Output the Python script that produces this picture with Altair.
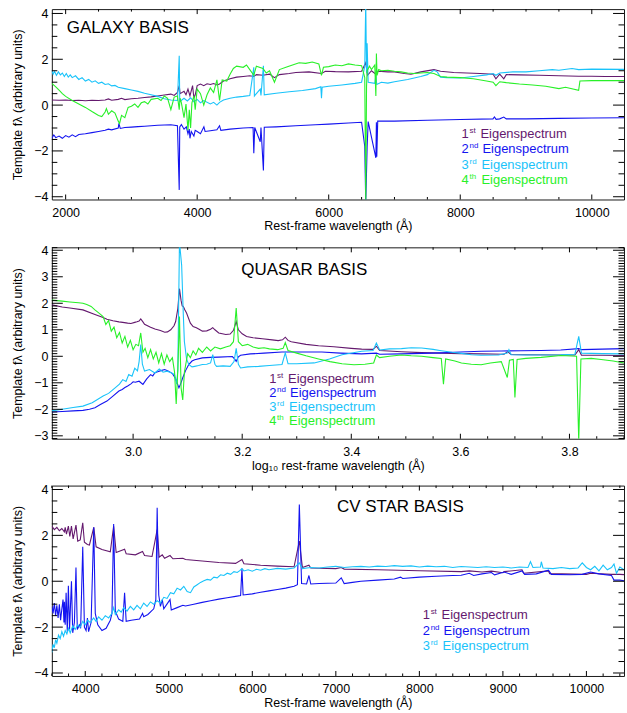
import altair as alt
import pandas as pd

PURPLE = "#64196e"
BLUE = "#1414f0"
CYAN = "#19c3fa"
GREEN = "#28f028"

# ---------------- GALAXY BASIS ----------------
gal_w1 = [1790, 1900, 2000, 2100, 2200, 2300, 2400, 2500, 2600, 2650, 2700, 2800, 2850, 2900, 3000, 3100, 3200, 3300, 3400, 3500, 3600, 3650, 3700, 3727, 3740, 3800, 3830, 3860, 3890, 3930, 3950, 3970, 4000, 4050, 4100, 4150, 4200, 4250, 4300, 4340, 4400, 4500, 4600, 4700, 4800, 4861, 4900, 5000, 5100, 5175, 5250, 5400, 5500, 5700, 5890, 5950, 6100, 6300, 6500, 6563, 6590, 6650, 6717, 6750, 6900, 7000, 7150, 7250, 7400, 7600, 7700, 7900, 8100, 8300, 8500, 8542, 8600, 8662, 8700, 8900, 9200, 9500, 9800, 10000, 10200, 10490]
gal_f1 = [0.22, 0.21, 0.22, 0.20, 0.21, 0.19, 0.21, 0.20, 0.22, 0.27, 0.21, 0.25, 0.30, 0.24, 0.28, 0.30, 0.33, 0.36, 0.40, 0.44, 0.48, 0.42, 0.55, 0.85, 0.50, 0.60, 0.45, 0.70, 0.40, 0.85, 0.30, 0.45, 0.85, 0.92, 0.85, 0.93, 0.90, 0.94, 0.88, 0.92, 1.05, 1.15, 1.22, 1.25, 1.28, 1.25, 1.33, 1.30, 1.35, 1.20, 1.33, 1.38, 1.42, 1.45, 1.38, 1.48, 1.46, 1.45, 1.48, 1.85, 1.30, 1.50, 1.35, 1.48, 1.45, 1.45, 1.38, 1.35, 1.45, 1.55, 1.48, 1.42, 1.40, 1.38, 1.35, 1.15, 1.35, 1.15, 1.33, 1.32, 1.30, 1.28, 1.26, 1.26, 1.25, 1.25]

gal_w2 = [1790, 1820, 1850, 1900, 1950, 2000, 2050, 2100, 2150, 2200, 2300, 2400, 2500, 2600, 2650, 2700, 2800, 2810, 2830, 2900, 3000, 3100, 3200, 3300, 3400, 3500, 3600, 3700, 3727, 3735, 3760, 3800, 3835, 3860, 3880, 3890, 3910, 3950, 3970, 4000, 4050, 4102, 4120, 4200, 4300, 4340, 4360, 4500, 4700, 4850, 4861, 4875, 4959, 4970, 5007, 5020, 5200, 5500, 5800, 6000, 6300, 6500, 6548, 6563, 6584, 6600, 6717, 6725, 6731, 6745, 7000, 7500, 8000, 8498, 8520, 8545, 8600, 8662, 8700, 9000, 9500, 10000, 10490]
gal_f2 = [-1.45, -1.30, -1.42, -1.35, -1.45, -1.33, -1.40, -1.30, -1.38, -1.28, -1.25, -1.20, -1.15, -1.10, -1.05, -1.08, -1.00, -0.80, -1.02, -0.98, -0.96, -0.94, -0.92, -0.90, -0.88, -0.87, -0.86, -0.90, -3.70, -0.95, -0.85, -1.05, -0.95, -1.25, -1.05, -1.45, -1.15, -1.35, -1.10, -1.15, -1.25, -0.95, -1.15, -1.12, -1.08, -0.90, -1.10, -1.05, -1.00, -0.98, -2.10, -0.98, -1.60, -0.98, -2.85, -0.97, -0.95, -0.90, -0.86, -0.83, -0.78, -0.75, -1.80, -4.30, -1.85, -0.72, -2.30, -0.75, -2.25, -0.70, -0.70, -0.66, -0.63, -0.60, -0.52, -0.62, -0.60, -0.52, -0.60, -0.60, -0.58, -0.56, -0.55]

gal_w3 = [1790, 1810, 1830, 1860, 1890, 1920, 1950, 1980, 2010, 2040, 2070, 2100, 2150, 2200, 2250, 2300, 2350, 2400, 2450, 2500, 2550, 2600, 2650, 2700, 2750, 2800, 2900, 3000, 3100, 3200, 3300, 3400, 3500, 3600, 3700, 3727, 3735, 3800, 3850, 3900, 3950, 4000, 4050, 4100, 4200, 4250, 4300, 4340, 4400, 4500, 4600, 4700, 4800, 4861, 4870, 4959, 4970, 5007, 5020, 5200, 5400, 5600, 5800, 5880, 5890, 5900, 6000, 6200, 6400, 6500, 6548, 6563, 6575, 6584, 6600, 6700, 6717, 6731, 6800, 6900, 7000, 7200, 7400, 7500, 7600, 7650, 7700, 7800, 8000, 8200, 8400, 8500, 8542, 8600, 8800, 9000, 9200, 9400, 9500, 9700, 9800, 10000, 10490]
gal_f3 = [1.50, 1.35, 1.48, 1.30, 1.45, 1.32, 1.40, 1.25, 1.38, 1.22, 1.32, 1.20, 1.28, 1.12, 1.20, 1.05, 1.12, 1.00, 1.06, 0.95, 1.00, 0.90, 0.93, 0.84, 0.86, 0.78, 0.72, 0.66, 0.60, 0.52, 0.45, 0.38, 0.28, 0.22, 0.20, 2.15, 0.15, 0.30, 0.18, 0.32, 0.15, 0.25, 0.10, 0.20, 0.05, 0.12, 0.00, 0.12, 0.22, 0.30, 0.35, 0.38, 0.42, 1.65, 0.40, 0.70, 0.42, 1.72, 0.45, 0.52, 0.58, 0.64, 0.72, 0.80, 0.30, 0.78, 0.82, 0.88, 0.95, 1.00, 1.70, 4.50, 1.40, 2.70, 1.00, 0.95, 1.30, 0.90, 1.00, 0.96, 1.02, 1.12, 1.25, 1.33, 1.52, 1.45, 1.22, 1.20, 1.18, 1.25, 1.32, 1.38, 1.30, 1.40, 1.45, 1.45, 1.50, 1.55, 1.52, 1.60, 1.55, 1.57, 1.56]

gal_w4 = [1790, 1850, 1900, 1950, 2000, 2100, 2200, 2300, 2400, 2500, 2550, 2600, 2620, 2650, 2700, 2750, 2800, 2820, 2850, 2900, 2950, 3000, 3050, 3100, 3150, 3200, 3250, 3300, 3400, 3450, 3500, 3550, 3600, 3650, 3700, 3727, 3740, 3760, 3800, 3830, 3860, 3880, 3900, 3920, 3950, 3970, 4000, 4050, 4100, 4150, 4200, 4250, 4300, 4340, 4380, 4450, 4500, 4550, 4600, 4700, 4750, 4800, 4861, 4900, 5000, 5050, 5100, 5175, 5250, 5350, 5450, 5550, 5650, 5750, 5850, 5890, 5920, 6000, 6100, 6200, 6300, 6400, 6500, 6548, 6563, 6575, 6584, 6620, 6650, 6700, 6717, 6725, 6735, 6760, 6800, 6900, 7000, 7100, 7200, 7300, 7400, 7500, 7600, 7700, 7800, 8000, 8200, 8400, 8500, 8542, 8600, 8700, 8900, 9100, 9300, 9500, 9600, 9800, 9820, 10000, 10490]
gal_f4 = [0.95, 0.80, 0.65, 0.50, 0.38, 0.20, 0.05, -0.10, -0.28, -0.45, -0.50, -0.30, -0.15, -0.40, -0.25, -0.35, -0.70, -0.80, -0.45, -0.55, -0.10, -0.05, 0.05, -0.10, 0.10, 0.15, 0.05, 0.25, 0.30, 0.20, 0.40, 0.30, -0.20, 0.35, 0.40, -0.20, 0.30, 0.10, -0.55, 0.05, -1.10, -0.20, -1.00, 0.10, 0.40, -0.20, 0.70, 0.50, 0.00, 0.45, 0.75, 0.55, 1.10, 0.20, 1.10, 1.05, 1.35, 1.60, 1.70, 1.65, 1.75, 1.55, 1.30, 1.70, 1.60, 1.40, 1.50, 1.00, 1.55, 1.65, 1.75, 1.85, 1.82, 1.88, 1.80, 1.30, 1.65, 1.68, 1.75, 1.72, 1.80, 1.75, 1.72, 1.20, -4.20, 0.80, 1.50, 1.70, 1.55, 1.75, 0.40, 2.25, 1.30, 1.55, 1.50, 1.52, 1.48, 1.45, 1.40, 1.38, 1.40, 1.42, 1.38, 1.25, 1.22, 1.20, 1.15, 1.05, 1.00, 0.85, 1.02, 0.98, 0.92, 0.88, 0.82, 0.72, 0.78, 0.65, 1.05, 1.07, 1.07]

# ---------------- QUASAR BASIS (log10 wavelength) ----------------
qso_w1 = [2.851, 2.870, 2.884, 2.908, 2.930, 2.945, 2.952, 2.963, 2.974, 2.981, 2.990, 2.996, 3.003, 3.007, 3.011, 3.014, 3.018, 3.021, 3.032, 3.040, 3.050, 3.058, 3.063, 3.069, 3.075, 3.078, 3.082, 3.085, 3.088, 3.090, 3.092, 3.095, 3.098, 3.105, 3.110, 3.116, 3.121, 3.127, 3.135, 3.142, 3.146, 3.150, 3.157, 3.170, 3.178, 3.184, 3.189, 3.193, 3.200, 3.208, 3.220, 3.237, 3.255, 3.266, 3.274, 3.279, 3.284, 3.290, 3.317, 3.340, 3.368, 3.400, 3.419, 3.440, 3.446, 3.452, 3.492, 3.529, 3.565, 3.600, 3.638, 3.680, 3.687, 3.693, 3.720, 3.784, 3.810, 3.817, 3.822, 3.860, 3.900]
qso_f1 = [1.94, 1.86, 1.82, 1.75, 1.58, 1.46, 1.40, 1.34, 1.30, 1.28, 1.25, 1.24, 1.28, 1.30, 1.33, 1.41, 1.30, 1.21, 1.10, 1.03, 0.97, 0.91, 0.92, 1.00, 1.15, 1.31, 1.80, 2.55, 2.10, 1.90, 1.88, 1.75, 1.63, 1.25, 1.12, 1.08, 1.02, 0.95, 0.96, 1.02, 1.08, 1.00, 0.88, 0.82, 0.84, 0.98, 1.31, 1.00, 0.85, 0.75, 0.70, 0.66, 0.62, 0.59, 0.62, 0.72, 0.60, 0.55, 0.45, 0.40, 0.36, 0.30, 0.27, 0.26, 0.38, 0.22, 0.17, 0.14, 0.12, 0.10, 0.09, 0.08, 0.17, 0.07, 0.06, 0.05, 0.05, 0.25, 0.04, 0.04, 0.03]

qso_w2 = [2.851, 2.870, 2.890, 2.908, 2.920, 2.930, 2.940, 2.952, 2.963, 2.974, 2.980, 2.985, 2.990, 2.996, 3.000, 3.004, 3.011, 3.018, 3.025, 3.032, 3.036, 3.040, 3.045, 3.051, 3.058, 3.065, 3.072, 3.078, 3.084, 3.087, 3.091, 3.096, 3.102, 3.108, 3.113, 3.127, 3.142, 3.157, 3.182, 3.186, 3.189, 3.193, 3.197, 3.215, 3.240, 3.273, 3.300, 3.346, 3.380, 3.419, 3.446, 3.452, 3.492, 3.529, 3.565, 3.600, 3.638, 3.675, 3.711, 3.748, 3.784, 3.817, 3.822, 3.860, 3.900]
qso_f2 = [-2.10, -2.08, -2.06, -2.04, -2.00, -1.94, -1.82, -1.69, -1.50, -1.31, -1.25, -1.18, -1.12, -1.04, -0.96, -0.98, -0.94, -1.06, -0.85, -0.69, -0.74, -0.62, -0.58, -0.54, -0.50, -0.56, -0.65, -0.85, -1.19, -1.05, -0.81, -0.55, -0.31, -0.18, -0.13, -0.06, -0.04, -0.03, -0.01, -0.10, -0.19, -0.02, 0.04, 0.09, 0.12, 0.16, 0.16, 0.16, 0.12, 0.09, 0.12, 0.08, 0.09, 0.11, 0.13, 0.16, 0.19, 0.20, 0.21, 0.22, 0.24, 0.29, 0.25, 0.27, 0.29]

qso_w3 = [2.851, 2.870, 2.890, 2.908, 2.925, 2.945, 2.955, 2.967, 2.975, 2.981, 2.987, 2.992, 2.998, 3.003, 3.008, 3.011, 3.014, 3.017, 3.021, 3.030, 3.040, 3.048, 3.055, 3.062, 3.070, 3.076, 3.080, 3.082, 3.085, 3.089, 3.092, 3.094, 3.098, 3.102, 3.108, 3.113, 3.120, 3.127, 3.135, 3.142, 3.146, 3.150, 3.153, 3.165, 3.178, 3.185, 3.189, 3.193, 3.197, 3.210, 3.230, 3.250, 3.273, 3.279, 3.284, 3.300, 3.332, 3.360, 3.383, 3.419, 3.440, 3.446, 3.452, 3.470, 3.492, 3.510, 3.529, 3.550, 3.565, 3.585, 3.602, 3.620, 3.638, 3.670, 3.686, 3.689, 3.693, 3.720, 3.784, 3.810, 3.817, 3.822, 3.860, 3.900]
qso_f3 = [-2.06, -2.00, -1.93, -1.88, -1.75, -1.50, -1.40, -1.19, -1.05, -0.88, -0.95, -0.69, -0.75, -0.45, -0.55, -0.20, 0.44, -0.30, -0.56, -0.50, -0.63, -0.48, -0.60, -0.56, -0.62, -0.69, -1.05, -0.50, 4.30, 3.44, 1.60, 0.56, -0.10, -0.31, -0.40, -0.38, -0.35, -0.31, -0.30, -0.25, 0.06, -0.30, -0.38, -0.36, -0.38, -0.20, 0.30, -0.30, -0.44, -0.40, -0.38, -0.35, -0.31, 0.13, -0.28, -0.28, -0.25, -0.10, 0.06, 0.19, 0.22, 0.50, 0.24, 0.28, 0.29, 0.32, 0.31, 0.26, 0.21, 0.15, 0.11, 0.06, 0.04, 0.05, 0.12, 0.25, 0.06, 0.05, 0.06, 0.08, 0.75, 0.12, 0.10, 0.09]

qso_w4 = [2.851, 2.870, 2.884, 2.900, 2.908, 2.915, 2.923, 2.930, 2.938, 2.945, 2.950, 2.955, 2.960, 2.965, 2.970, 2.975, 2.980, 2.985, 2.990, 2.995, 3.000, 3.005, 3.010, 3.014, 3.018, 3.022, 3.027, 3.032, 3.037, 3.042, 3.047, 3.052, 3.057, 3.062, 3.067, 3.072, 3.076, 3.079, 3.082, 3.085, 3.088, 3.091, 3.094, 3.100, 3.105, 3.110, 3.115, 3.120, 3.127, 3.135, 3.142, 3.150, 3.160, 3.170, 3.178, 3.184, 3.189, 3.193, 3.200, 3.210, 3.220, 3.230, 3.240, 3.250, 3.265, 3.275, 3.279, 3.284, 3.300, 3.317, 3.340, 3.361, 3.383, 3.405, 3.425, 3.441, 3.446, 3.452, 3.470, 3.492, 3.510, 3.529, 3.550, 3.565, 3.569, 3.573, 3.590, 3.602, 3.620, 3.638, 3.655, 3.675, 3.686, 3.690, 3.697, 3.700, 3.704, 3.720, 3.748, 3.784, 3.813, 3.817, 3.821, 3.840, 3.858, 3.880, 3.900]
qso_f4 = [2.12, 2.08, 2.05, 2.02, 2.00, 1.95, 1.88, 1.75, 1.62, 1.50, 1.20, 1.35, 0.95, 1.10, 0.70, 0.90, 0.50, 0.75, 0.35, 0.60, 0.25, 0.45, 0.40, 0.88, 0.15, 0.30, -0.05, 0.25, -0.10, 0.15, -0.25, 0.10, -0.30, 0.05, -0.20, -0.05, -0.60, -1.80, -0.50, 1.50, -1.20, -1.65, -0.60, 0.10, -0.05, 0.20, 0.05, 0.30, 0.15, 0.35, 0.20, 0.35, 0.28, 0.35, 0.40, 0.55, 1.82, 0.55, 0.40, 0.45, 0.35, 0.30, 0.32, 0.28, 0.25, 0.30, 0.52, 0.22, 0.12, 0.02, -0.10, -0.20, -0.28, -0.32, -0.30, -0.25, 0.05, -0.05, 0.00, 0.05, 0.02, 0.00, -0.05, -0.08, -1.05, -0.10, -0.18, -0.25, -0.30, -0.32, -0.25, -0.20, -0.80, -0.15, -0.12, -1.55, -0.12, -0.08, -0.04, 0.03, 0.00, -3.20, -0.10, -0.08, -0.12, -0.18, -0.25]

# ---------------- CV STAR BASIS ----------------
cv_w1 = [3600, 3630, 3660, 3690, 3720, 3750, 3760, 3775, 3798, 3815, 3835, 3855, 3889, 3910, 3940, 3970, 3990, 4026, 4050, 4102, 4130, 4200, 4300, 4340, 4370, 4471, 4490, 4600, 4686, 4710, 4800, 4861, 4885, 4922, 4950, 5015, 5050, 5169, 5200, 5400, 5600, 5800, 5876, 5900, 6100, 6300, 6500, 6563, 6600, 6678, 6700, 7000, 7065, 7100, 7500, 8000, 8500, 8598, 8750, 8863, 9000, 9015, 9229, 9250, 9546, 9560, 10000, 10050, 10300, 10400, 10450]
cv_f1 = [2.40, 2.25, 2.35, 2.20, 2.30, 2.15, 2.35, 2.05, 2.40, 1.95, 2.40, 1.85, 2.45, 1.75, 1.80, 2.55, 1.70, 1.60, 1.58, 2.35, 1.50, 1.38, 1.28, 2.40, 1.25, 1.40, 1.20, 1.15, 1.30, 1.12, 1.08, 2.25, 1.05, 1.15, 1.00, 1.12, 0.98, 1.00, 0.95, 0.88, 0.82, 0.78, 0.95, 0.76, 0.70, 0.66, 0.63, 1.75, 0.60, 0.70, 0.58, 0.55, 0.60, 0.53, 0.50, 0.46, 0.42, 0.45, 0.40, 0.44, 0.37, 0.42, 0.50, 0.35, 0.45, 0.33, 0.30, 0.35, 0.30, 0.30, 0.29]

cv_w2 = [3600, 3615, 3630, 3645, 3660, 3675, 3690, 3705, 3720, 3734, 3745, 3750, 3760, 3771, 3785, 3798, 3812, 3835, 3850, 3870, 3889, 3905, 3930, 3945, 3970, 3990, 4010, 4026, 4040, 4070, 4102, 4120, 4150, 4200, 4250, 4300, 4320, 4340, 4360, 4400, 4450, 4471, 4490, 4550, 4650, 4686, 4700, 4750, 4820, 4845, 4861, 4880, 4900, 4922, 4940, 5015, 5030, 5100, 5169, 5200, 5300, 5400, 5500, 5600, 5700, 5800, 5860, 5876, 5890, 6000, 6100, 6200, 6300, 6400, 6500, 6540, 6563, 6590, 6650, 6678, 6700, 6800, 7000, 7065, 7100, 7200, 7300, 7500, 7700, 7775, 7800, 8000, 8200, 8400, 8500, 8598, 8650, 8750, 8863, 8900, 9015, 9100, 9229, 9260, 9400, 9546, 9580, 9800, 9950, 10050, 10150, 10300, 10330, 10400, 10450]
cv_f2 = [-1.10, -1.40, -0.95, -1.50, -1.05, -1.60, -1.00, -1.70, -1.20, -0.80, -1.80, -0.90, -1.90, -0.50, -2.20, -0.20, -2.10, 0.00, -2.25, -1.80, 0.60, -2.10, -1.90, -2.05, 1.50, -2.00, -2.15, -1.60, -2.20, -1.80, 2.35, -1.40, -1.90, -2.15, -2.05, -1.70, -1.40, 2.50, -1.30, -1.65, -1.75, -0.50, -1.75, -1.70, -1.65, -1.40, -1.55, -1.45, -1.20, -0.80, 3.20, -0.60, -1.10, -0.80, -1.20, -0.80, -1.25, -1.15, -1.05, -1.08, -1.00, -0.92, -0.85, -0.78, -0.72, -0.66, -0.62, 0.55, -0.60, -0.55, -0.48, -0.42, -0.36, -0.30, -0.22, -0.15, 3.35, -0.10, -0.12, 0.25, -0.12, -0.10, -0.08, 0.15, -0.10, -0.05, 0.00, 0.05, 0.10, 0.18, 0.12, 0.18, 0.22, 0.25, 0.26, 0.35, 0.25, 0.32, 0.38, 0.28, 0.40, 0.30, 0.45, 0.30, 0.32, 0.48, 0.30, 0.28, 0.30, 0.40, 0.32, 0.25, 0.05, 0.05, 0.02]

cv_w3 = [3600, 3615, 3630, 3645, 3660, 3680, 3700, 3720, 3740, 3760, 3780, 3800, 3820, 3850, 3880, 3910, 3940, 3970, 4000, 4030, 4060, 4100, 4130, 4160, 4200, 4240, 4280, 4320, 4340, 4360, 4400, 4430, 4460, 4500, 4540, 4580, 4620, 4660, 4700, 4740, 4780, 4820, 4861, 4900, 4940, 4980, 5020, 5060, 5100, 5140, 5180, 5220, 5260, 5300, 5340, 5380, 5420, 5460, 5500, 5540, 5580, 5620, 5660, 5700, 5740, 5780, 5820, 5850, 5876, 5900, 5950, 6000, 6050, 6100, 6150, 6200, 6300, 6400, 6500, 6563, 6600, 6700, 6800, 6900, 7000, 7100, 7200, 7300, 7400, 7500, 7600, 7700, 7800, 7900, 8000, 8100, 8200, 8300, 8400, 8500, 8600, 8700, 8800, 8900, 9000, 9100, 9200, 9300, 9330, 9360, 9450, 9460, 9480, 9600, 9700, 9800, 9900, 9950, 10000, 10050, 10100, 10150, 10200, 10250, 10300, 10330, 10360, 10400, 10450]
cv_f3 = [-3.10, -2.75, -2.90, -2.55, -2.70, -2.35, -2.50, -2.20, -2.40, -2.15, -2.30, -2.05, -2.25, -1.95, -2.10, -1.90, -2.00, -1.75, -1.90, -1.70, -1.80, -1.60, -1.75, -1.55, -1.70, -1.50, -1.60, -1.40, -1.15, -1.45, -1.25, -1.35, -1.15, -1.30, -1.10, -1.25, -1.05, -1.20, -0.95, -1.10, -0.90, -1.00, -0.85, -0.95, -0.70, -0.75, -0.50, -0.55, -0.30, -0.38, -0.22, -0.45, -0.50, -0.25, -0.15, -0.05, 0.02, 0.08, 0.05, 0.18, 0.15, 0.28, 0.25, 0.35, 0.30, 0.42, 0.38, 0.46, 0.55, 0.45, 0.50, 0.44, 0.52, 0.48, 0.55, 0.50, 0.56, 0.53, 0.58, 0.80, 0.55, 0.60, 0.58, 0.62, 0.65, 0.60, 0.63, 0.65, 0.62, 0.66, 0.64, 0.68, 0.65, 0.67, 0.62, 0.66, 0.63, 0.65, 0.60, 0.64, 0.62, 0.60, 0.63, 0.60, 0.62, 0.58, 0.62, 0.60, 0.85, 0.60, 0.62, 0.85, 0.58, 0.55, 0.60, 0.55, 0.58, 0.80, 0.60, 0.50, 0.65, 0.45, 0.70, 0.50, 0.60, 0.75, 0.35, 0.62, 0.50]

ORDINALS = ["1", "2", "3", "4"]
SUPERS = ["st", "nd", "rd", "th"]
LEGEND_WORD = "Eigenspectrum"
COLORS = [PURPLE, BLUE, CYAN, GREEN]
Y_TITLE = "Template f\u03bb (arbitrary units)"

gal_xmajor = [2000, 4000, 6000, 8000, 10000]
gal_xminor = [v for v in range(2000, 10500, 500) if v not in gal_xmajor]
gal_ymajor = [-4, -2, 0, 2, 4]
gal_yminor = [-3.5, -3, -2.5, -1.5, -1, -0.5, 0.5, 1, 1.5, 2.5, 3, 3.5]

qso_xmajor = [3.0, 3.2, 3.4, 3.6, 3.8]
qso_xminor = [2.9, 2.95, 3.05, 3.1, 3.15, 3.25, 3.3, 3.35, 3.45, 3.5, 3.55, 3.65, 3.7, 3.75, 3.85, 3.9]
qso_ymajor = [-3, -2, -1, 0, 1, 2, 3, 4]
qso_yminor = [round(k * 0.1, 1) for k in range(-31, 42) if k % 10 != 0]

cv_xmajor = [4000, 5000, 6000, 7000, 8000, 9000, 10000]
cv_xminor = [v for v in range(3600, 10450, 200) if v % 1000 != 0]
cv_ymajor = [-4, -2, 0, 2, 4]
cv_yminor = [-3.5, -3, -2.5, -1.5, -1, -0.5, 0.5, 1, 1.5, 2.5, 3, 3.5]

W = 574


def long_df(pairs):
    rows = []
    for k, (ws, fs) in enumerate(pairs):
        for w, f in zip(ws, fs):
            rows.append({"w": w, "f": f, "s": ORDINALS[k]})
    return pd.DataFrame(rows)


def panel(pairs, H, xdom, ydom, xmaj, xmin, ymaj, ymin, xtitle, xfmt,
          title, tx, ty, lx, ly0, ldy):
    n = len(pairs)
    df = long_df(pairs)
    xs = alt.Scale(domain=xdom, nice=False, zero=False)
    ys = alt.Scale(domain=ydom, nice=False, zero=False)
    xaxis = alt.Axis(values=xmaj, format=xfmt, title=xtitle, ticks=False,
                     tickSize=0, domain=False, grid=False, labelPadding=7,
                     titlePadding=1, labelFlush=False)
    yaxis = alt.Axis(values=ymaj, format="d", title=Y_TITLE, ticks=False,
                     tickSize=0, domain=False, grid=False, labelPadding=4,
                     titlePadding=9, labelFlush=False)
    xe = alt.X("w:Q", scale=xs, axis=xaxis)
    ye = alt.Y("f:Q", scale=ys, axis=yaxis)
    lines = alt.Chart(df).mark_line(strokeWidth=1.1, clip=True).encode(
        x=xe, y=ye,
        color=alt.Color("s:N", scale=alt.Scale(domain=ORDINALS[:n], range=COLORS[:n]), legend=None),
    )
    layers = [lines]
    xmaj_df = pd.DataFrame({"w": xmaj})
    xmin_df = pd.DataFrame({"w": xmin})
    ymaj_df = pd.DataFrame({"f": ymaj})
    ymin_df = pd.DataFrame({"f": ymin})
    for d, ln in ((xmaj_df, 5), (xmin_df, 2.5)):
        base = alt.Chart(d).mark_rule(color="black", strokeWidth=1)
        layers.append(base.encode(x=xe, y=alt.value(H), y2=alt.value(H - ln)))
        layers.append(base.encode(x=xe, y=alt.value(0), y2=alt.value(ln)))
    for d, ln in ((ymaj_df, 11), (ymin_df, 5.5)):
        base = alt.Chart(d).mark_rule(color="black", strokeWidth=1)
        layers.append(base.encode(y=ye, x=alt.value(0), x2=alt.value(ln)))
        layers.append(base.encode(y=ye, x=alt.value(W), x2=alt.value(W - ln)))
    one = pd.DataFrame({"a": [0]})
    layers.append(alt.Chart(one).mark_text(
        align="left", baseline="alphabetic", font="Liberation Sans",
        fontSize=17, color="black").encode(
        x=alt.value(tx), y=alt.value(ty), text=alt.value(title)))
    for k in range(n):
        yb = ly0 + k * ldy
        sup_w = {"st": 7, "nd": 9, "rd": 8, "th": 8}[SUPERS[k]]
        layers.append(alt.Chart(one).mark_text(
            align="left", baseline="alphabetic", font="Liberation Sans",
            fontSize=13, color=COLORS[k]).encode(
            x=alt.value(lx), y=alt.value(yb), text=alt.value(ORDINALS[k])))
        layers.append(alt.Chart(one).mark_text(
            align="left", baseline="alphabetic", font="Liberation Sans",
            fontSize=8, color=COLORS[k]).encode(
            x=alt.value(lx + 8), y=alt.value(yb - 5), text=alt.value(SUPERS[k])))
        layers.append(alt.Chart(one).mark_text(
            align="left", baseline="alphabetic", font="Liberation Sans",
            fontSize=13, color=COLORS[k]).encode(
            x=alt.value(lx + 12 + sup_w), y=alt.value(yb),
            text=alt.value(LEGEND_WORD)))
    return alt.layer(*layers).properties(width=W, height=H)


p1 = panel([(gal_w1, gal_f1), (gal_w2, gal_f2), (gal_w3, gal_f3), (gal_w4, gal_f4)],
           191, [1790, 10490], [-4.12, 4.19], gal_xmajor, gal_xminor,
           gal_ymajor, gal_yminor, "Rest-frame wavelength (\u00c5)", "d",
           "GALAXY BASIS", 15, 24, 411, 129, 15.5)
p2 = panel([(qso_w1, qso_f1), (qso_w2, qso_f2), (qso_w3, qso_f3), (qso_w4, qso_f4)],
           192, [2.851, 3.900], [-3.11, 4.11], qso_xmajor, qso_xminor,
           qso_ymajor, qso_yminor, "log\u2081\u2080 rest-frame wavelength (\u00c5)", ".1f",
           "QUASAR BASIS", 190, 28, 218, 136, 14)
p3 = panel([(cv_w1, cv_f1), (cv_w2, cv_f2), (cv_w3, cv_f3)],
           191, [3600, 10450], [-4.13, 4.17], cv_xmajor, cv_xminor,
           cv_ymajor, cv_yminor, "Rest-frame wavelength (\u00c5)", "d",
           "CV STAR BASIS", 286, 26, 372, 134, 15.5)

chart = alt.vconcat(p1, p2, p3, spacing=10).properties(
    padding={"left": 11, "top": 5, "right": 2, "bottom": 0}
).configure_view(stroke="#1a1a1a", strokeWidth=1).configure_axis(
    labelFont="Liberation Sans", labelFontSize=12.5, labelColor="black",
    titleFont="Liberation Sans", titleFontSize=12.5, titleFontWeight="normal",
    titleColor="black"
)

chart.save("out.html", embed_options={"renderer": "svg", "actions": False})
